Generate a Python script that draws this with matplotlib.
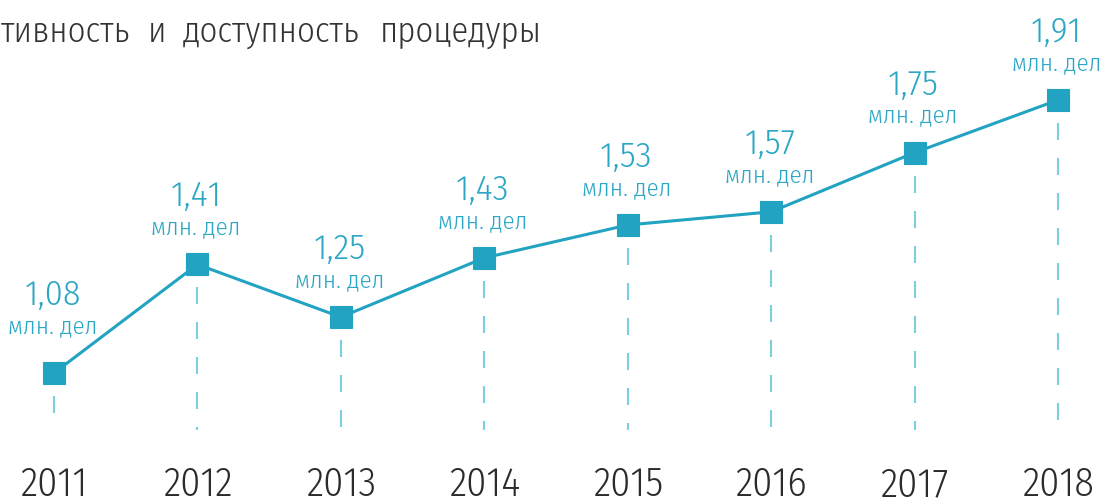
import matplotlib
matplotlib.use("Agg")
import matplotlib.pyplot as plt

years = [2011, 2012, 2013, 2014, 2015, 2016, 2017, 2018]
values = [1.08, 1.41, 1.25, 1.43, 1.53, 1.57, 1.75, 1.91]
value_labels = ["1,08", "1,41", "1,25", "1,43", "1,53", "1,57", "1,75", "1,91"]
unit_label = "млн. дел"
title_words = ["тивность", "и", "доступность", "процедуры"]

FONT = ["Fira Sans Condensed", "DejaVu Sans"]
TEAL = "#21a3c1"
TEAL_TEXT = "#2ba7c5"
DASH = "#7ccfe1"
DARK = "#2b2b2b"

W, H = 1103, 499
fig = plt.figure(figsize=(W / 100, H / 100), dpi=100)
ax = fig.add_axes([0, 0, 1, 1])
ax.set_axis_off()

# pixel mapping: 2011 -> x=54, 2018 -> x=1058 ; 1.08 -> y=373, 1.91 -> y=100 (from top)
pxx = (1058 - 54) / (years[-1] - years[0])
pxy = (373 - 100) / (values[-1] - values[0])
ax.set_xlim(years[0] - 54 / pxx, years[-1] + (W - 1058) / pxx)
ax.set_ylim(values[0] - (H - 373) / pxy, values[-1] + 100 / pxy)

# dashed drop lines
y_bottom = values[0] - (430 - 373) / pxy
lw_d = 1.5
for x, v in zip(years, values):
    ax.plot([x, x], [v - 23 / pxy, y_bottom], color=DASH, lw=lw_d,
            linestyle=(0, (17 * 0.72 / lw_d, 18 * 0.72 / lw_d)),
            solid_capstyle="butt", dash_capstyle="butt", zorder=1)

ax.plot(years, values, color=TEAL, lw=2.2, marker="s", markersize=15.5,
        markerfacecolor=TEAL, markeredgecolor=TEAL, markeredgewidth=0.8, zorder=3)

for i, (x, v, lab) in enumerate(zip(years, values, value_labels)):
    extra = 10 if i == 0 else 0
    ax.annotate(lab, (x, v), xytext=(-1, (58 + extra) * 0.72), textcoords="offset points",
                ha="center", va="baseline", fontsize=26, color=TEAL_TEXT,
                family=FONT, fontweight=300)
    ax.annotate(unit_label, (x, v), xytext=(-1, (30 + extra) * 0.72), textcoords="offset points",
                ha="center", va="baseline", fontsize=18, color=TEAL_TEXT,
                family=FONT, fontweight=300)

for x in years:
    fig.text((x - ax.get_xlim()[0]) * pxx / W, 1 - 496 / H, str(x), ha="center", va="baseline",
             fontsize=29, color=DARK, family=FONT, fontweight=300)

title_x = [1, 148, 183, 380]
for word, tx in zip(title_words, title_x):
    fig.text(tx / W, 1 - 42 / H, word, ha="left", va="baseline", fontsize=25,
             color="#333333", family=FONT, fontweight=300)

fig.savefig("out.png", dpi=100)
